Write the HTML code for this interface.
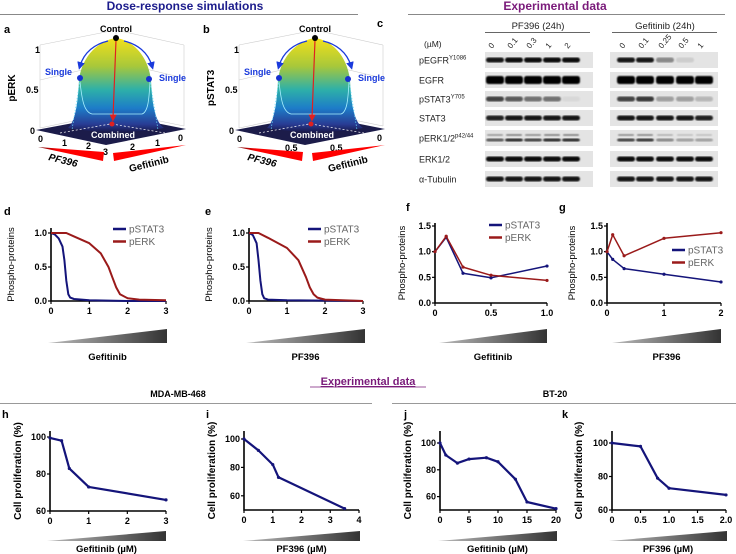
<!DOCTYPE html>
<html><head><meta charset="utf-8"><style>
html,body{margin:0;padding:0;background:#fff;}
svg{display:block;font-family:"Liberation Sans",Arial,sans-serif;}
.b{font-weight:bold;}
</style></head><body>
<svg id="fig" width="736" height="554" viewBox="0 0 736 554" xmlns="http://www.w3.org/2000/svg">
<defs>
<linearGradient id="surf" x1="0" y1="0" x2="0" y2="1">
<stop offset="0" stop-color="#f2e01a"/><stop offset="0.3" stop-color="#a8c83a"/><stop offset="0.55" stop-color="#2eb0a8"/><stop offset="0.75" stop-color="#1d7cc8"/><stop offset="0.92" stop-color="#283c94"/><stop offset="1" stop-color="#1a1a50"/>
</linearGradient>
<linearGradient id="wedge" x1="0" y1="0" x2="1" y2="0"><stop offset="0" stop-color="#bbb"/><stop offset="1" stop-color="#333"/></linearGradient>
<linearGradient id="redw" x1="0" y1="0" x2="1" y2="0"><stop offset="0" stop-color="#600"/><stop offset="0.3" stop-color="#f00"/><stop offset="1" stop-color="#f00"/></linearGradient>
<marker id="arrB" markerWidth="6" markerHeight="6" refX="3" refY="3" orient="auto"><path d="M0,0 L6,3 L0,6 Z" fill="#1a3adc"/></marker>
<marker id="arrR" markerWidth="6" markerHeight="6" refX="3" refY="3" orient="auto"><path d="M0,0 L6,3 L0,6 Z" fill="#e02020"/></marker>
<filter id="blur"><feGaussianBlur stdDeviation="0.8"/></filter>
</defs>

<!-- section headers -->
<text x="185" y="10" text-anchor="middle" font-size="12" class="b" fill="#1c1c8c">Dose-response simulations</text>
<line x1="0" y1="14.5" x2="358" y2="14.5" stroke="#888" stroke-width="1"/>
<text x="555" y="10" text-anchor="middle" font-size="12" class="b" fill="#7a1a7a">Experimental data</text>
<line x1="408" y1="14.5" x2="725" y2="14.5" stroke="#888" stroke-width="1"/>

<text x="368" y="385" text-anchor="middle" font-size="11" class="b" fill="#7a1a7a" text-decoration="underline">Experimental data</text>
<line x1="310" y1="387" x2="426" y2="387" stroke="#7a1a7a" stroke-width="0.8"/>
<text x="178" y="397" text-anchor="middle" font-size="9" class="b">MDA-MB-468</text>
<text x="555" y="397" text-anchor="middle" font-size="9" class="b">BT-20</text>
<line x1="0" y1="403.5" x2="372" y2="403.5" stroke="#999"/>
<line x1="392" y1="403.5" x2="736" y2="403.5" stroke="#999"/>

<g id="panels3d"></g>
<g id="blot"></g>
<g id="charts"></g>
</svg>
<script>
// ---------- data ----------
const dX_stat = [0,0.1,0.2,0.3,0.35,0.4,0.45,0.5,0.6,0.8,1,2,3];
const dY_stat = [1,0.98,0.92,0.8,0.6,0.3,0.1,0.05,0.03,0.02,0.01,0,0];
const dX_erk = [0,0.4,0.6,1.0,1.3,1.5,1.6,1.7,1.8,2.0,2.3,3];
const dY_erk = [1,1,0.95,0.85,0.7,0.5,0.35,0.2,0.1,0.04,0.02,0.01];
const eX_stat = [0,0.1,0.2,0.25,0.3,0.35,0.4,0.5,1,3];
const eY_stat = [1,0.97,0.85,0.6,0.3,0.1,0.04,0.02,0.01,0];
const eX_erk = [0,0.25,0.5,1.0,1.3,1.5,1.6,1.7,1.8,2.0,3];
const eY_erk = [1,1,0.93,0.78,0.6,0.35,0.2,0.1,0.05,0.02,0];
const fX = [0,0.1,0.25,0.5,1.0];
const fY_stat = [1,1.28,0.58,0.49,0.72];
const fY_erk = [1,1.3,0.7,0.54,0.44];
const gX = [0,0.1,0.3,1,2];
const gY_stat = [1,0.85,0.67,0.56,0.41];
const gY_erk = [1,1.33,0.92,1.26,1.37];
const hX = [0,0.3,0.5,1,3];
const hY = [99.5,98,83,73,66];
const iX = [0,0.5,1,1.2,3.5];
const iY = [100,92,82,73,51];
const jX = [0,1,3,5,8,10,13,15,20];
const jY = [100,91,85,88,89,86,73,56,51];
const kX = [0,0.5,0.8,1,2];
const kY = [100,98,79,73,69];
const blotRows = ["pEGFR","EGFR","pSTAT3","STAT3","pERK1/2","ERK1/2","α-Tubulin"];
const pfDoses = ["0","0.1","0.3","1","2"];
const gefDoses = ["0","0.1","0.25","0.5","1"];
const pfBands = [[0.9,0.95,0.95,0.95,0.95],[1,1,1,1,1],[0.7,0.6,0.5,0.5,0.05],[0.85,0.9,0.9,0.9,0.9],[0.6,0.8,0.7,0.8,0.8],[0.95,0.95,0.95,0.95,0.95],[0.9,0.9,0.9,0.9,0.9]];
const gefBands = [[0.9,0.9,0.4,0.1,0],[1,1,1,1,1],[0.7,0.75,0.3,0.3,0.2],[0.9,0.9,0.9,0.9,0.85],[0.7,0.75,0.4,0.3,0.3],[0.95,0.95,0.95,0.95,0.95],[0.9,0.9,0.9,0.9,0.9]];

const NS="http://www.w3.org/2000/svg";
function mk(tag,attrs,parent,txt){const e=document.createElementNS(NS,tag);for(const k in attrs)e.setAttribute(k,attrs[k]);if(txt!==undefined)e.textContent=txt;parent.appendChild(e);return e;}

// ---------- 3D panels ----------
const P3=document.getElementById('panels3d');
function panel3d(ox,letter,ylab,ytick,leftT,rightT,name){
  const g=mk('g',{transform:`translate(${ox},0)`},P3);
  
  
  const lt=mk('text',{x:4,y:33,'font-size':11,'font-weight':'bold'},g,letter);
  
  
  // back grid
  [[40,128,116,112],[116,112,184,126],[40,80,116,62],[116,62,184,78],[40,45,116,30],[116,30,184,45],[40,128,40,45],[116,112,116,30],[184,126,184,45]].forEach(l=>mk('line',{x1:l[0],y1:l[1],x2:l[2],y2:l[3],stroke:'#ccc','stroke-width':0.6},g));
  const base=mk('polygon',{points:'36,130 116,115 186,129 106,145',fill:'#1c1c4a'},g);
  
  
  const s=mk('path',{d:'M68,128 C76,121 78,100 79,80 C82,55 100,40 116,38 C132,40 148,55 151,80 C152,100 154,121 164,128 C140,133 95,133 68,128 Z',fill:'url(#surf)'},g);
  
  
  mk('path',{d:'M80,82 C82,100 84,112 92,114 L142,114 C148,112 149,100 150,82',fill:'none',stroke:'#a8f0ff','stroke-width':0.8},g);
  mk('line',{x1:80,y1:80,x2:72,y2:130,stroke:'#6ce0ff','stroke-width':0.7,'stroke-dasharray':'1.5,1.5'},g);
  mk('line',{x1:150,y1:80,x2:158,y2:130,stroke:'#6ce0ff','stroke-width':0.7,'stroke-dasharray':'1.5,1.5'},g);
  mk('line',{x1:60,y1:133,x2:110,y2:124,stroke:'#fff','stroke-width':0.7,'stroke-dasharray':'2,2'},g);
  mk('line',{x1:112,y1:124,x2:165,y2:133,stroke:'#fff','stroke-width':0.7,'stroke-dasharray':'2,2'},g);
  mk('path',{d:'M108,41 C95,44 84,52 80,66',fill:'none',stroke:'#1a3adc','stroke-width':1.3,'marker-end':'url(#arrB)'},g);
  mk('path',{d:'M124,41 C137,44 148,52 152,66',fill:'none',stroke:'#1a3adc','stroke-width':1.3,'marker-end':'url(#arrB)'},g);
  mk('line',{x1:116,y1:40,x2:113,y2:118,stroke:'#e02020','stroke-width':1.2,'marker-end':'url(#arrR)'},g);
  mk('circle',{cx:116,cy:38,r:3,fill:'#000'},g);
  mk('circle',{cx:80,cy:78,r:3,fill:'#1530d0'},g);
  mk('circle',{cx:149,cy:79,r:3,fill:'#1530d0'},g);
  mk('circle',{cx:112,cy:124,r:2.5,fill:'#e02020'},g);
  mk('text',{x:116,y:32,'font-size':9,'font-weight':'bold','text-anchor':'middle'},g,'Control');
  mk('text',{x:45,y:75,'font-size':9,'font-weight':'bold',fill:'#1a3adc'},g,'Single');
  mk('text',{x:159,y:81,'font-size':9,'font-weight':'bold',fill:'#1a3adc'},g,'Single');
  mk('text',{x:113,y:138,'font-size':9,'font-weight':'bold',fill:'#fff','text-anchor':'middle'},g,'Combined');
  [['1',35,53],['0.5',26,93],['0',30,134]].forEach(t=>mk('text',{x:t[1],y:t[2],'font-size':9,'font-weight':'bold'},g,t[0]));
  const yl=mk('text',{x:0,y:0,'font-size':10,'font-weight':'bold','text-anchor':'middle',transform:'translate(15,88) rotate(-90)'},g,ylab);
  
  
  leftT.forEach(t=>mk('text',{x:t[1],y:t[2],'font-size':9,'font-weight':'bold'},g,t[0]));
  rightT.forEach(t=>mk('text',{x:t[1],y:t[2],'font-size':9,'font-weight':'bold'},g,t[0]));
  mk('polygon',{points:'38,147 104,152 103,161',fill:'url(#redw)'},g);
  mk('polygon',{points:'186,145 113,153 114,161',fill:'#f00'},g);
  mk('text',{x:0,y:0,'font-size':10,'font-weight':'bold','font-style':'italic',transform:'translate(48,160) rotate(14)'},g,'PF396');
  mk('text',{x:0,y:0,'font-size':10,'font-weight':'bold',transform:'translate(130,172) rotate(-14)'},g,'Gefitinib');
}
panel3d(0,'a','pERK','',[['0',38,142],['1',62,146],['2',86,149],['3',103,155]],[['2',130,150],['1',155,146],['0',178,141]],'panel-a-perk-surface');
panel3d(199,'b','pSTAT3','',[['0',38,142],['0.5',86,151]],[['0.5',131,151],['0',178,141]],'panel-b-pstat3-surface');

// ---------- western blot ----------
const B=document.getElementById('blot');
{
 const c=mk('text',{x:377,y:27,'font-size':11,'font-weight':'bold'},B,'c');
 
 
 const h1=mk('text',{x:538,y:29,'font-size':9.5,'text-anchor':'middle',fill:'#222'},B,'PF396 (24h)');
 
 
 mk('line',{x1:485,y1:32.5,x2:590,y2:32.5,stroke:'#333','stroke-width':0.8},B);
 const h2=mk('text',{x:665,y:29,'font-size':9.5,'text-anchor':'middle',fill:'#222'},B,'Gefitinib (24h)');
 
 
 mk('line',{x1:612,y1:32.5,x2:717,y2:32.5,stroke:'#333','stroke-width':0.8},B);
 mk('text',{x:424,y:47,'font-size':8.5,fill:'#222'},B,'(µM)');
 const laneL=[495,514,533,552,571], laneR=[626,645,665,685,704];
 pfDoses.forEach((d,i)=>mk('text',{x:0,y:0,'font-size':8,fill:'#222',transform:`translate(${laneL[i]-3},${49}) rotate(-50)`},B,d));
 gefDoses.forEach((d,i)=>mk('text',{x:0,y:0,'font-size':8,fill:'#222',transform:`translate(${laneR[i]-3},${49}) rotate(-50)`},B,d));
 const rowY=[60,80,99,118,138,159,179];
 blotRows.forEach((r,ri)=>{
  const y=rowY[ri];
  const lab=mk('text',{x:419,y:y+3.5,'font-size':9,fill:'#222'},B,r);
  
  
  if(ri===0) mk('tspan',{'font-size':6,dy:-4},lab,'Y1086');
  if(ri===2) mk('tspan',{'font-size':6,dy:-4},lab,'Y705');
  if(ri===4) mk('tspan',{'font-size':6,dy:-4},lab,'p42/44');
  [[485,laneL,pfBands],[610,laneR,gefBands]].forEach(([x0,lanes,bands])=>{
   const bg=mk('rect',{x:x0,y:y-8,width:108,height:16,fill:'#e4e4e4'},B);
   
   
   lanes.forEach((lx,li)=>{
    const v=bands[ri][li];
    const h=ri===1?8:(ri===4?3:5);
    const band=mk('rect',{x:lx-9,y:y-h/2+(ri===4?2:0),width:18,height:h,rx:2.5,fill:'#000','fill-opacity':v,filter:'url(#blur)'},B);
    
    
    if(ri===4) mk('rect',{x:lx-8,y:y-4,width:16,height:2,rx:1,fill:'#000','fill-opacity':v*0.5,filter:'url(#blur)'},B);
   });
  });
 });
}

// ---------- 2D charts ----------
const C=document.getElementById('charts');
function chart(o){
  const g=mk('g',{},C);
  
  
  const sx=v=>o.px0+(v-o.xmin)/(o.xmax-o.xmin)*(o.px1-o.px0);
  const sy=v=>o.py0+(v-o.ymin)/(o.ymax-o.ymin)*(o.py1-o.py0);
  const L=mk('text',{x:o.lx,y:o.ly,'font-size':11,'font-weight':'bold'},g,o.letter);
  
  
  const ax=mk('path',{d:`M${o.px0},${o.top} L${o.px0},${o.py0} L${o.px1},${o.py0}`,fill:'none',stroke:'#000','stroke-width':1.6},g);
  
  
  o.xt.forEach((t,i)=>{const x=sx(t);mk('line',{x1:x,y1:o.py0,x2:x,y2:o.py0+3,stroke:'#000','stroke-width':1.2},g);
    const tl=mk('text',{x:x,y:o.py0+13,'font-size':9,'font-weight':'bold','text-anchor':'middle'},g,o.xtl[i]);
    
    });
  o.yt.forEach((t,i)=>{const y=sy(t);mk('line',{x1:o.px0-3,y1:y,x2:o.px0,y2:y,stroke:'#000','stroke-width':1.2},g);
    const tl=mk('text',{x:o.px0-4,y:y+3,'font-size':9,'font-weight':'bold','text-anchor':'end'},g,o.ytl[i]);
    
    });
  const yt=mk('text',{x:0,y:0,'font-size':o.ytsize||9.5,'font-weight':o.ytbold?'bold':'normal','text-anchor':'middle',transform:`translate(${o.ytx},${(o.top+o.py0)/2}) rotate(-90)`},g,o.ytitle);
  
  
  const w=mk('polygon',{points:`${o.w0},${o.wy1} ${o.w1},${o.wy1} ${o.w1},${o.wy0}`,fill:'url(#wedge)'},g);
  
  
  const xt=mk('text',{x:(o.w0+o.w1)/2,y:o.xty,'font-size':9.5,'font-weight':'bold','text-anchor':'middle'},g,o.xtitle);
  
  
  o.series.forEach(s=>{
    const d=s.x.map((v,i)=>(i?'L':'M')+sx(v).toFixed(1)+','+sy(s.y[i]).toFixed(1)).join(' ');
    const p=mk('path',{d:d,fill:'none',stroke:s.c,'stroke-width':s.w||2,'stroke-linejoin':'round'},g);
    
    
    if(s.dots) s.x.forEach((v,i)=>{const m=mk('circle',{cx:sx(v),cy:sy(s.y[i]),r:1.6,fill:s.c},g);
      
      });
  });
  if(o.legend) o.legend.forEach((e,i)=>{
    const y=o.legy+i*12.5;
    mk('line',{x1:o.legx,y1:y,x2:o.legx+13,y2:y,stroke:e[1],'stroke-width':2.5},g);
    const t=mk('text',{x:o.legx+16,y:y+3.5,'font-size':10,fill:'#666'},g,e[0]);
    
    
  });
}
const NAVY='#14147a', RED='#9a1a1a';
const dTop={ymin:0,ymax:1,py0:301,py1:233,top:228,yt:[0,0.5,1],ytl:['0.0','0.5','1.0'],ytitle:'Phospho-proteins',wy0:329,wy1:343,xty:360};
chart(Object.assign({},dTop,{name:'panel-d-gefitinib-simulation',letter:'d',lx:4,ly:215,px0:51,px1:166,xmin:0,xmax:3,xt:[0,1,2,3],xtl:['0','1','2','3'],ytx:14,w0:48,w1:167,xtitle:'Gefitinib',
  series:[{x:dX_stat,y:dY_stat,c:NAVY,name:'pstat3-line'},{x:dX_erk,y:dY_erk,c:RED,name:'perk-line'}],legend:[['pSTAT3',NAVY],['pERK',RED]],legx:113,legy:229}));
chart(Object.assign({},dTop,{name:'panel-e-pf396-simulation',letter:'e',lx:205,ly:215,px0:249,px1:363,xmin:0,xmax:3,xt:[0,1,2,3],xtl:['0','1','2','3'],ytx:212,w0:246,w1:365,xtitle:'PF396',
  series:[{x:eX_stat,y:eY_stat,c:NAVY,name:'pstat3-line'},{x:eX_erk,y:eY_erk,c:RED,name:'perk-line'}],legend:[['pSTAT3',NAVY],['pERK',RED]],legx:308,legy:229}));
const fTop={ymin:0,ymax:1.5,py0:303,py1:226,top:223,yt:[0,0.5,1,1.5],ytl:['0.0','0.5','1.0','1.5'],ytitle:'Phospho-proteins',wy0:329,wy1:343,xty:360};
chart(Object.assign({},fTop,{name:'panel-f-gefitinib-experiment',letter:'f',lx:406,ly:211,px0:435,px1:547,xmin:0,xmax:1,xt:[0,0.5,1],xtl:['0','0.5','1.0'],ytx:405,w0:439,w1:547,xtitle:'Gefitinib',
  series:[{x:fX,y:fY_stat,c:NAVY,name:'pstat3-line',w:1.5,dots:true},{x:fX,y:fY_erk,c:RED,name:'perk-line',w:1.5,dots:true}],legend:[['pSTAT3',NAVY],['pERK',RED]],legx:489,legy:225}));
chart(Object.assign({},fTop,{name:'panel-g-pf396-experiment',letter:'g',lx:559,ly:211,px0:607,px1:721,xmin:0,xmax:2,xt:[0,1,2],xtl:['0','1','2'],ytx:575,w0:612,w1:721,xtitle:'PF396',
  series:[{x:gX,y:gY_stat,c:NAVY,name:'pstat3-line',w:1.5,dots:true},{x:gX,y:gY_erk,c:RED,name:'perk-line',w:1.5,dots:true}],legend:[['pSTAT3',NAVY],['pERK',RED]],legx:672,legy:250}));
const bot={ytitle:'Cell proliferation (%)',ytsize:10,ytbold:true,wy0:531,wy1:541,xty:552,top:431};
chart(Object.assign({},bot,{name:'panel-h-mda-gefitinib',letter:'h',lx:2,ly:418,px0:50,px1:166,xmin:0,xmax:3,xt:[0,1,2,3],xtl:['0','1','2','3'],ymin:60,ymax:100,py0:511,py1:437,yt:[60,80,100],ytl:['60','80','100'],ytx:21,w0:47,w1:166,xtitle:'Gefitinib (µM)',
  series:[{x:hX,y:hY,c:NAVY,name:'proliferation-line',w:2.2,dots:true}]}));
chart(Object.assign({},bot,{name:'panel-i-mda-pf396',letter:'i',lx:206,ly:418,px0:244,px1:359,xmin:0,xmax:4,xt:[0,1,2,3,4],xtl:['0','1','2','3','4'],ymin:50,ymax:100,py0:510,py1:439,yt:[60,80,100],ytl:['60','80','100'],ytx:215,w0:243,w1:360,xtitle:'PF396 (µM)',
  series:[{x:iX,y:iY,c:NAVY,name:'proliferation-line',w:2.2,dots:true}]}));
chart(Object.assign({},bot,{name:'panel-j-bt20-gefitinib',letter:'j',lx:404,ly:418,px0:440,px1:556,xmin:0,xmax:20,xt:[0,5,10,15,20],xtl:['0','5','10','15','20'],ymin:50,ymax:100,py0:510,py1:443,yt:[60,80,100],ytl:['60','80','100'],ytx:411,w0:438,w1:557,xtitle:'Gefitinib (µM)',
  series:[{x:jX,y:jY,c:NAVY,name:'proliferation-line',w:2.2,dots:true}]}));
chart(Object.assign({},bot,{name:'panel-k-bt20-pf396',letter:'k',lx:562,ly:418,px0:612,px1:726,xmin:0,xmax:2,xt:[0,0.5,1,1.5,2],xtl:['0','0.5','1.0','1.5','2.0'],ymin:60,ymax:100,py0:510,py1:443,yt:[60,80,100],ytl:['60','80','100'],ytx:582,w0:609,w1:727,xtitle:'PF396 (µM)',
  series:[{x:kX,y:kY,c:NAVY,name:'proliferation-line',w:2.2,dots:true}]}));
</script>
</body></html>
